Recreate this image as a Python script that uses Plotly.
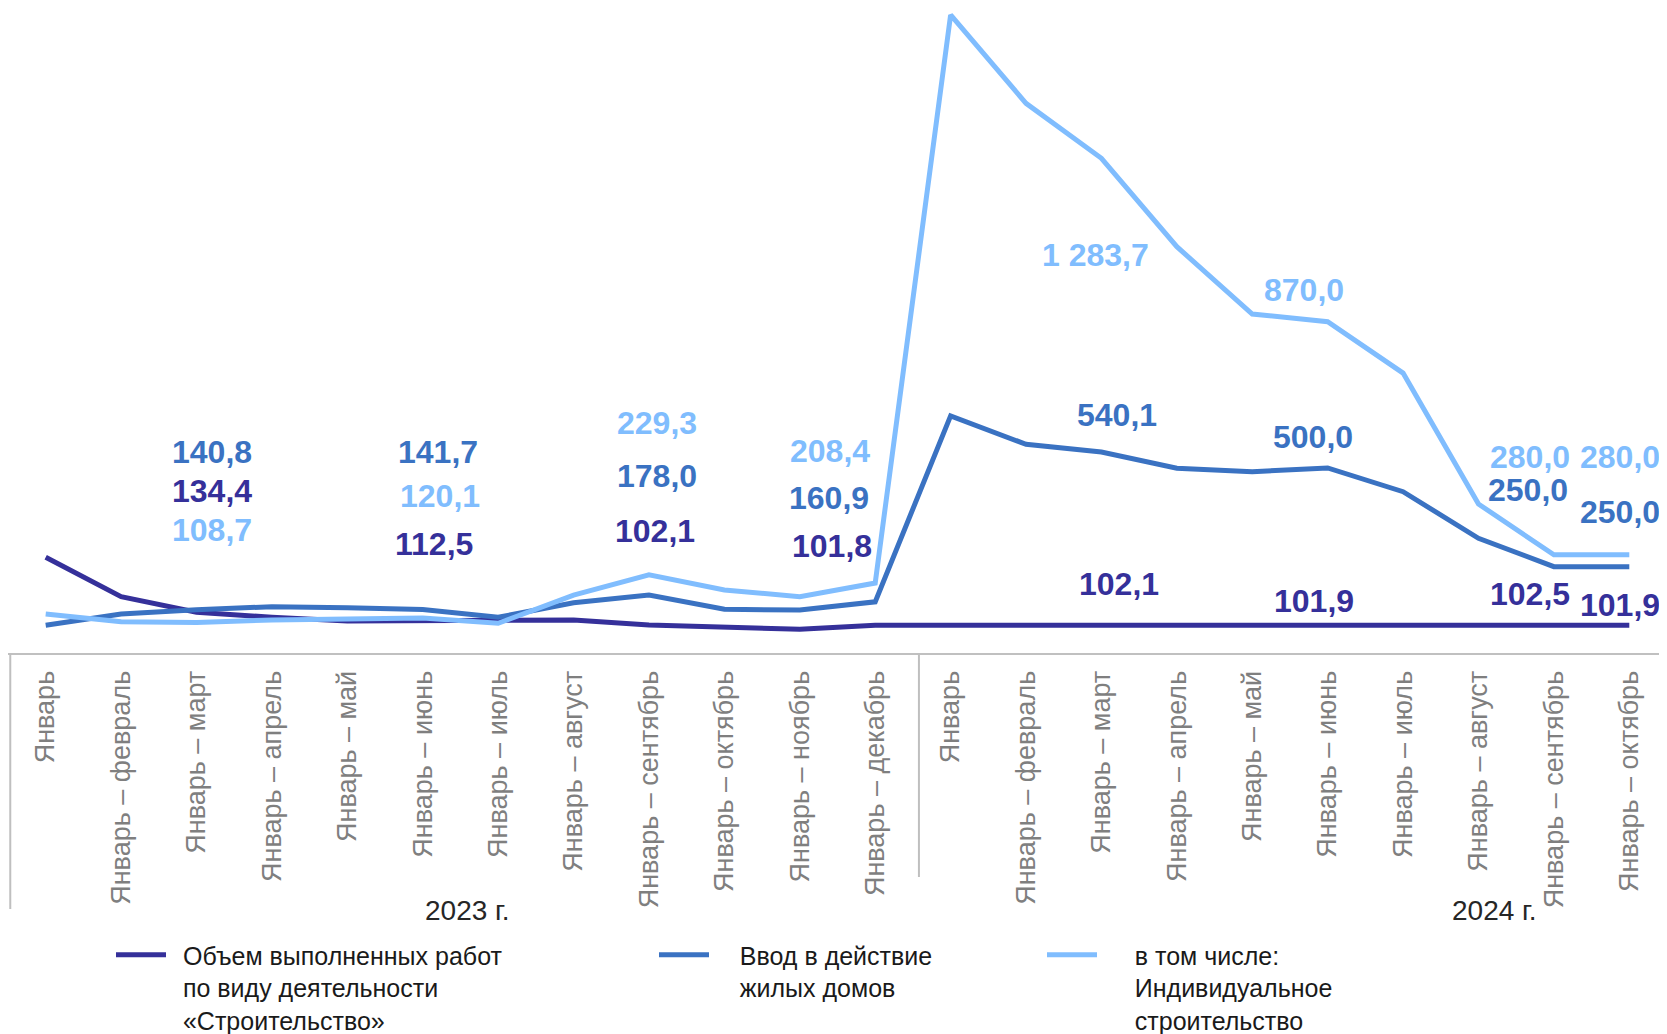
import plotly.graph_objects as go

# ---------------- data ----------------
months_2023 = ["Январь", "Январь – февраль", "Январь – март", "Январь – апрель",
               "Январь – май", "Январь – июнь", "Январь – июль", "Январь – август",
               "Январь – сентябрь", "Январь – октябрь", "Январь – ноябрь", "Январь – декабрь"]
months_2024 = ["Январь", "Январь – февраль", "Январь – март", "Январь – апрель",
               "Январь – май", "Январь – июнь", "Январь – июль", "Январь – август",
               "Январь – сентябрь", "Январь – октябрь"]
categories = months_2023 + months_2024
year_labels = ["2023 г.", "2024 г."]

series_lines = [
    ["Объем выполненных работ", "по виду деятельности", "«Строительство»"],
    ["Ввод в действие", "жилых домов"],
    ["в том числе:", "Индивидуальное", "строительство"],
]

works = [273.7, 174.0, 134.4, 121.8, 112.4, 112.5, 113.0, 115.0, 102.1, 96.4, 91.4, 101.8,
         102.0, 102.0, 102.1, 102.0, 102.0, 101.9, 102.0, 101.5, 102.5, 101.9]
housing = [101.5, 130.0, 140.8, 148.6, 146.0, 141.7, 121.8, 158.7, 178.0, 142.0, 140.0, 160.9,
           631.6, 559.7, 540.1, 499.0, 490.4, 500.0, 439.8, 321.7, 250.0, 250.0]
individual = [130.0, 110.7, 108.7, 115.0, 117.5, 120.1, 106.6, 178.0, 229.3, 191.0, 174.0, 208.4,
              1646.6, 1423.0, 1283.7, 1060.0, 889.6, 870.0, 740.0, 408.6, 280.0, 280.0]

labeled_points = [2, 5, 8, 11, 14, 17, 20, 21]

# ---------------- style ----------------
OFF = 8                      # page body margin of the html page
W, H = 1667 - OFF, 1034 - OFF
ML, MR, MT, MB = 0, 0, 0, 381
PW, PH = W - ML - MR, H - MT - MB
FONT = "Liberation Sans, Arial, sans-serif"
colors = ["#35309a", "#3a72c2", "#80bdfe"]
series = [works, housing, individual]
legend_text_gap = [1, 3, 4]   # extra spacing between legend symbol and text
legend_left = [111, 654, 1042]
legend_top = 932

# label placement (x offset px from category, y pixel on page) per labeled point, per series
label_layout = {
    2: [(15, 491), (15, 452), (15, 530)],
    5: [(11, 544), (15, 452), (17, 496)],
    8: [(6, 531), (8, 476), (8, 423)],
    11: [(-43, 546), (-46, 498), (-45, 451)],
    14: [(18, 584), (16, 415), (-6, 255)],
    17: [(-14, 601), (-15, 437), (-24, 290)],
    20: [(-24, 594), (-26, 490), (-24, 457)],
    21: [(-9, 605), (-9, 512), (-9, 457)],
}


def px_x(px):
    return (px - OFF - ML) / PW


def px_y(py):
    return (OFF + MT + PH - py) / PH


def fmt(v):
    return f"{v:,.1f}".replace(",", " ").replace(".", ",")


x = list(range(len(categories)))

fig = go.Figure()
legend_ids = ["legend", "legend2", "legend3"]
for lines, gap, vals, col, lg in zip(series_lines, legend_text_gap, series, colors, legend_ids):
    pad = "\u00a0" * gap + "\u2009"
    name = "<br>".join(pad + ln for ln in lines)
    fig.add_trace(go.Scatter(
        x=x, y=vals, mode="lines", name=name,
        line=dict(color=col, width=5),
        legend=lg, hoverinfo="skip",
    ))

annotations = []
for i in labeled_points:
    for s, (vals, col) in enumerate(zip(series, colors)):
        dx, py = label_layout[i][s]
        annotations.append(dict(
            x=i, xref="x", xshift=dx, y=px_y(py), yref="paper",
            text=fmt(vals[i]), showarrow=False,
            font=dict(family=FONT, size=32, color=col, weight="bold"),
            xanchor="center", yanchor="middle",
        ))

for txt, px in zip(year_labels, [468, 1494]):
    annotations.append(dict(
        x=px_x(px), xref="paper", y=px_y(910), yref="paper",
        text=txt, showarrow=False,
        font=dict(family=FONT, size=28, color="#262626"),
        xanchor="center", yanchor="middle",
    ))

shapes = [
    dict(type="line", xref="x", yref="paper", x0=-0.47, x1=-0.47, y0=0, y1=px_y(909),
         line=dict(color="#bfbfbf", width=2)),
    dict(type="line", xref="x", yref="paper", x0=11.58, x1=11.58, y0=0, y1=px_y(877),
         line=dict(color="#bfbfbf", width=2)),
]

legend_common = dict(
    orientation="v", xanchor="left", yanchor="top",
    font=dict(family=FONT, size=25, color="#1a1a1a"),
    bgcolor="rgba(0,0,0,0)", valign="top", itemwidth=50,
    tracegroupgap=0,
)

fig.update_layout(
    width=W, height=H,
    margin=dict(l=ML, r=MR, t=MT, b=MB, pad=0, autoexpand=False),
    paper_bgcolor="white", plot_bgcolor="white",
    font=dict(family=FONT),
    showlegend=True,
    legend=dict(x=px_x(legend_left[0]), y=px_y(legend_top), **legend_common),
    legend2=dict(x=px_x(legend_left[1]), y=px_y(legend_top), **legend_common),
    legend3=dict(x=px_x(legend_left[2]), y=px_y(legend_top), **legend_common),
    xaxis=dict(
        range=[-0.5, 21.5], tickmode="array", tickvals=x, ticktext=categories,
        tickangle=-90, showgrid=False, zeroline=False,
        showline=True, linecolor="#c0c0c0", linewidth=2,
        ticks="", ticklabelstandoff=5, automargin=False,
        tickfont=dict(family=FONT, size=27, color="#7f7f7f"),
    ),
    yaxis=dict(range=[31.4, 1664.3], visible=False, showgrid=False, zeroline=False,
               automargin=False),
    annotations=annotations,
    shapes=shapes,
)

fig.write_html("out.html")
